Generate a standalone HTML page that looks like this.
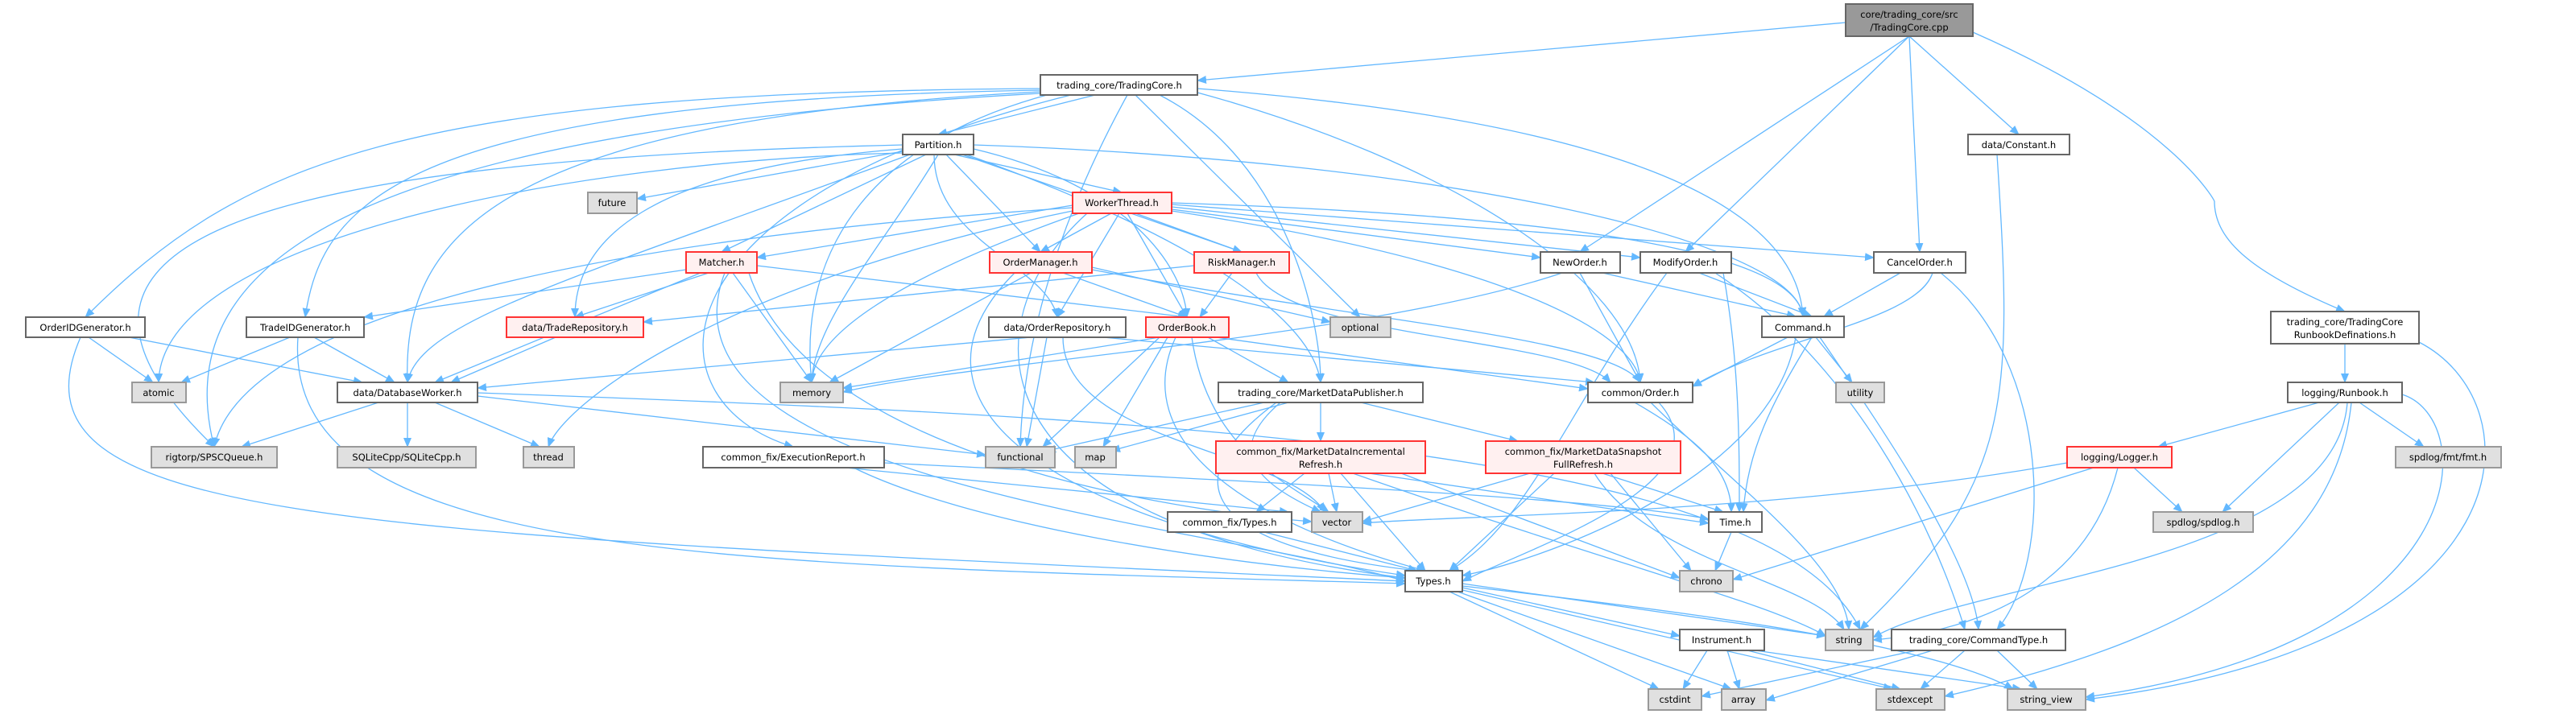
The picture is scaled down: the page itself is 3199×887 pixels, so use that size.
<!DOCTYPE html>
<html><head><meta charset="utf-8"><style>
html,body{margin:0;padding:0;background:#fff;}
svg{display:block;}
.e{fill:none;stroke:#63b8ff;stroke-width:1.3;marker-end:url(#a);}
.n rect{fill:#fff;stroke:#666;stroke-width:2;}
.r rect{fill:#fff0f0;stroke:#ff3333;stroke-width:2;}
.g rect{fill:#e0e0e0;stroke:#999;stroke-width:2;}
.c rect{fill:#999;stroke:#666;stroke-width:2;}
text{font-family:"DejaVu Sans","Liberation Sans",sans-serif;font-size:11.5px;fill:#000;text-anchor:middle;}
</style></head><body>
<svg width="3199" height="887" viewBox="0 0 3199 887" xmlns="http://www.w3.org/2000/svg">
<defs><marker id="a" markerWidth="12" markerHeight="10" refX="11" refY="5" orient="auto" markerUnits="userSpaceOnUse"><path d="M0,0L12,5L0,10z" fill="#63b8ff"/></marker></defs>
<g>
<path class="e" d="M2292,28L1487,100"/>
<path class="e" d="M2371,45L1962,313"/>
<path class="e" d="M2371,45L2093,313"/>
<path class="e" d="M2371,45L2384,313"/>
<path class="e" d="M2371,45L2507,167"/>
<path class="e" d="M2450,40C2700,150 2750,250 2750,250C2750,300 2800,340 2912,387"/>
<path class="e" d="M1360,118L1165,167"/>
<path class="e" d="M1292,110C500,115 300,200 106,394"/>
<path class="e" d="M1292,112C500,125 400,250 379,394"/>
<path class="e" d="M1292,114C600,150 500,300 506,475"/>
<path class="e" d="M1300,118C1000,200 1000,400 1008,475"/>
<path class="e" d="M1330,118C800,250 800,500 985,555"/>
<path class="e" d="M1410,118L1689,394"/>
<path class="e" d="M1440,118C1600,200 1640,400 1640,475"/>
<path class="e" d="M1487,110C2000,150 2230,250 2239,393"/>
<path class="e" d="M1487,115C1800,200 2030,350 2037,475"/>
<path class="e" d="M1292,116C500,160 200,300 266,555"/>
<path class="e" d="M1400,118C1300,300 1270,450 1267,555"/>
<path class="e" d="M1185,192L1393,239"/>
<path class="e" d="M1150,192L896,313"/>
<path class="e" d="M1175,192L1292,313"/>
<path class="e" d="M1195,192L1542,313"/>
<path class="e" d="M1209,185C1400,230 1470,330 1474,394"/>
<path class="e" d="M1160,192C1160,300 1300,330 1313,394"/>
<path class="e" d="M1121,185C800,210 714,300 714,394"/>
<path class="e" d="M1121,188L791,247"/>
<path class="e" d="M1121,190C700,200 200,300 197,475"/>
<path class="e" d="M1165,192C1100,300 1010,400 1008,475"/>
<path class="e" d="M1209,180C1800,200 2230,300 2239,393"/>
<path class="e" d="M1200,192C1500,300 1630,400 1640,475"/>
<path class="e" d="M1130,192C700,350 520,400 506,475"/>
<path class="e" d="M1121,180C300,200 0,300 266,555"/>
<path class="e" d="M1380,265L1292,313"/>
<path class="e" d="M1410,265L1542,313"/>
<path class="e" d="M1332,255L940,320"/>
<path class="e" d="M1400,265L1474,394"/>
<path class="e" d="M1390,265L1313,394"/>
<path class="e" d="M1455,260L1913,320"/>
<path class="e" d="M1455,257L2037,320"/>
<path class="e" d="M1455,254L2327,320"/>
<path class="e" d="M1455,252C2000,270 2230,320 2239,393"/>
<path class="e" d="M1340,265C1100,350 1010,420 1008,475"/>
<path class="e" d="M1332,262C900,350 700,500 681,555"/>
<path class="e" d="M1332,258C700,300 300,400 266,555"/>
<path class="e" d="M1455,262C1900,330 2030,420 2037,475"/>
<path class="e" d="M1350,265C1200,400 1200,650 1745,718"/>
<path class="e" d="M852,335L452,394"/>
<path class="e" d="M880,339L714,394"/>
<path class="e" d="M940,330L1474,394"/>
<path class="e" d="M870,339L540,475"/>
<path class="e" d="M910,339L1008,475"/>
<path class="e" d="M930,339C1000,550 1400,630 1629,648"/>
<path class="e" d="M900,339C800,600 1500,650 1745,722"/>
<path class="e" d="M1320,339L1474,394"/>
<path class="e" d="M1356,335C1700,400 2000,420 2037,475"/>
<path class="e" d="M1356,332L1652,400"/>
<path class="e" d="M1280,339L1030,475"/>
<path class="e" d="M1260,339C1100,500 1300,650 1745,715"/>
<path class="e" d="M1530,339L1490,394"/>
<path class="e" d="M1483,330L799,400"/>
<path class="e" d="M1560,339C1600,420 1950,420 2000,475"/>
<path class="e" d="M1990,339L2230,393"/>
<path class="e" d="M1962,339L2037,475"/>
<path class="e" d="M1940,339C1700,420 1200,450 1047,487"/>
<path class="e" d="M2110,339L2250,393"/>
<path class="e" d="M2070,339C1950,500 1900,650 1800,709"/>
<path class="e" d="M2130,339C2300,450 2400,650 2440,782"/>
<path class="e" d="M2140,339C2160,450 2160,550 2160,636"/>
<path class="e" d="M2360,339L2265,393"/>
<path class="e" d="M2400,339C2380,400 2200,420 2102,480"/>
<path class="e" d="M2410,339C2550,450 2550,700 2480,782"/>
<path class="e" d="M110,419L190,475"/>
<path class="e" d="M160,419L450,475"/>
<path class="e" d="M100,419C0,650 400,660 1745,722"/>
<path class="e" d="M360,419L225,475"/>
<path class="e" d="M390,419L490,475"/>
<path class="e" d="M370,419C350,700 900,700 1745,725"/>
<path class="e" d="M690,419L560,475"/>
<path class="e" d="M1280,419L593,482"/>
<path class="e" d="M1370,419L1980,475"/>
<path class="e" d="M1300,419L1275,555"/>
<path class="e" d="M1320,419C1320,550 1600,560 1645,636"/>
<path class="e" d="M1500,419L1600,475"/>
<path class="e" d="M1510,419L1972,483"/>
<path class="e" d="M1440,419L1047,482"/>
<path class="e" d="M1450,419L1370,555"/>
<path class="e" d="M1440,419L1295,555"/>
<path class="e" d="M1460,419C1400,550 1550,650 1770,709"/>
<path class="e" d="M1480,419C1500,560 1600,600 1650,636"/>
<path class="e" d="M2220,419L2102,480"/>
<path class="e" d="M2255,419L2300,475"/>
<path class="e" d="M2250,419C2200,500 2170,560 2165,636"/>
<path class="e" d="M2230,419C2200,600 1900,700 1816,715"/>
<path class="e" d="M2260,419C2350,550 2450,700 2457,782"/>
<path class="e" d="M2480,192C2500,500 2500,600 2310,782"/>
<path class="e" d="M2912,427L2912,475"/>
<path class="e" d="M3004,425C3150,500 3150,800 2590,869"/>
<path class="e" d="M470,500L300,555"/>
<path class="e" d="M506,500L506,555"/>
<path class="e" d="M540,500L670,555"/>
<path class="e" d="M593,492L1224,565"/>
<path class="e" d="M593,488C1500,520 2200,560 2310,782"/>
<path class="e" d="M1640,500L1640,548"/>
<path class="e" d="M1690,500L1885,548"/>
<path class="e" d="M1570,500L1300,560"/>
<path class="e" d="M1600,500L1380,560"/>
<path class="e" d="M1590,500C1520,560 1560,600 1640,636"/>
<path class="e" d="M1585,500C1450,600 1500,680 1760,709"/>
<path class="e" d="M2060,500C2150,600 1900,680 1816,722"/>
<path class="e" d="M2030,500C2100,540 2150,580 2150,636"/>
<path class="e" d="M2050,500C2150,600 2290,700 2296,782"/>
<path class="e" d="M1050,581L1600,636"/>
<path class="e" d="M1060,581C1200,650 1500,700 1745,718"/>
<path class="e" d="M1098,575C1600,600 2000,620 2122,645"/>
<path class="e" d="M1620,588L1560,636"/>
<path class="e" d="M1650,588L1660,636"/>
<path class="e" d="M1665,588L1770,709"/>
<path class="e" d="M1700,588L2122,650"/>
<path class="e" d="M1680,588C2000,700 2200,750 2267,790"/>
<path class="e" d="M1740,588L2086,718"/>
<path class="e" d="M1900,588L1692,648"/>
<path class="e" d="M1930,588L1800,709"/>
<path class="e" d="M1990,588L2140,636"/>
<path class="e" d="M2000,588L2100,709"/>
<path class="e" d="M1980,588C2050,700 2250,720 2290,782"/>
<path class="e" d="M1570,661L1760,709"/>
<path class="e" d="M2150,661L2130,709"/>
<path class="e" d="M1816,725L2267,790"/>
<path class="e" d="M1816,730L2086,790"/>
<path class="e" d="M1800,735L2060,856"/>
<path class="e" d="M1810,735L2150,856"/>
<path class="e" d="M1816,733L2350,856"/>
<path class="e" d="M1816,728C2100,760 2400,800 2500,856"/>
<path class="e" d="M2120,808L2090,856"/>
<path class="e" d="M2145,808L2160,856"/>
<path class="e" d="M2170,808L2360,856"/>
<path class="e" d="M2180,808L2510,856"/>
<path class="e" d="M2380,808L2113,865"/>
<path class="e" d="M2400,808L2193,870"/>
<path class="e" d="M2440,808L2385,856"/>
<path class="e" d="M2480,808L2530,856"/>
<path class="e" d="M2880,500L2680,555"/>
<path class="e" d="M2905,500L2760,636"/>
<path class="e" d="M2930,500L3010,555"/>
<path class="e" d="M2915,500C2900,700 2450,720 2326,792"/>
<path class="e" d="M2920,500C2900,700 2700,800 2415,865"/>
<path class="e" d="M2983,490C3080,520 3080,800 2590,866"/>
<path class="e" d="M2650,581L2710,636"/>
<path class="e" d="M2600,581L2152,720"/>
<path class="e" d="M2630,581C2600,700 2500,780 2326,795"/>
<path class="e" d="M2567,575C2200,640 1800,640 1692,650"/>
</g>
<g class="c"><rect x="2292" y="5" width="158" height="40"/><text x="2371" y="22">core/trading_core/src</text><text x="2371" y="38">/TradingCore.cpp</text></g>
<g class="n"><rect x="1292" y="93" width="195" height="25"/><text x="1390" y="110">trading_core/TradingCore.h</text></g>
<g class="n"><rect x="1121" y="167" width="88" height="25"/><text x="1165" y="184">Partition.h</text></g>
<g class="n"><rect x="2444" y="167" width="126" height="25"/><text x="2507" y="184">data/Constant.h</text></g>
<g class="g"><rect x="730" y="239" width="61" height="26"/><text x="760" y="256">future</text></g>
<g class="r"><rect x="1332" y="239" width="123" height="26"/><text x="1393" y="256">WorkerThread.h</text></g>
<g class="r"><rect x="852" y="313" width="88" height="26"/><text x="896" y="330">Matcher.h</text></g>
<g class="r"><rect x="1229" y="313" width="127" height="26"/><text x="1292" y="330">OrderManager.h</text></g>
<g class="r"><rect x="1483" y="313" width="118" height="26"/><text x="1542" y="330">RiskManager.h</text></g>
<g class="n"><rect x="1913" y="313" width="99" height="26"/><text x="1962" y="330">NewOrder.h</text></g>
<g class="n"><rect x="2037" y="313" width="113" height="26"/><text x="2093" y="330">ModifyOrder.h</text></g>
<g class="n"><rect x="2327" y="313" width="114" height="26"/><text x="2384" y="330">CancelOrder.h</text></g>
<g class="n"><rect x="32" y="394" width="148" height="25"/><text x="106" y="411">OrderIDGenerator.h</text></g>
<g class="n"><rect x="306" y="394" width="146" height="25"/><text x="379" y="411">TradeIDGenerator.h</text></g>
<g class="r"><rect x="629" y="394" width="170" height="25"/><text x="714" y="411">data/TradeRepository.h</text></g>
<g class="n"><rect x="1228" y="394" width="170" height="25"/><text x="1313" y="411">data/OrderRepository.h</text></g>
<g class="r"><rect x="1423" y="394" width="103" height="25"/><text x="1474" y="411">OrderBook.h</text></g>
<g class="g"><rect x="1652" y="394" width="75" height="25"/><text x="1689" y="411">optional</text></g>
<g class="n"><rect x="2188" y="393" width="102" height="26"/><text x="2239" y="411">Command.h</text></g>
<g class="n"><rect x="2820" y="387" width="184" height="40"/><text x="2912" y="404">trading_core/TradingCore</text><text x="2912" y="420">RunbookDefinations.h</text></g>
<g class="g"><rect x="164" y="475" width="67" height="25"/><text x="197" y="492">atomic</text></g>
<g class="n"><rect x="419" y="475" width="174" height="25"/><text x="506" y="492">data/DatabaseWorker.h</text></g>
<g class="g"><rect x="969" y="475" width="78" height="25"/><text x="1008" y="492">memory</text></g>
<g class="n"><rect x="1513" y="475" width="254" height="25"/><text x="1640" y="492">trading_core/MarketDataPublisher.h</text></g>
<g class="n"><rect x="1972" y="475" width="130" height="25"/><text x="2037" y="492">common/Order.h</text></g>
<g class="g"><rect x="2280" y="475" width="60" height="25"/><text x="2310" y="492">utility</text></g>
<g class="n"><rect x="2841" y="475" width="142" height="25"/><text x="2912" y="492">logging/Runbook.h</text></g>
<g class="g"><rect x="188" y="555" width="156" height="26"/><text x="266" y="572">rigtorp/SPSCQueue.h</text></g>
<g class="g"><rect x="419" y="555" width="172" height="26"/><text x="505" y="572">SQLiteCpp/SQLiteCpp.h</text></g>
<g class="g"><rect x="650" y="555" width="63" height="26"/><text x="681" y="572">thread</text></g>
<g class="n"><rect x="873" y="555" width="225" height="26"/><text x="985" y="572">common_fix/ExecutionReport.h</text></g>
<g class="g"><rect x="1224" y="555" width="86" height="26"/><text x="1267" y="572">functional</text></g>
<g class="g"><rect x="1335" y="555" width="51" height="26"/><text x="1360" y="572">map</text></g>
<g class="r"><rect x="1510" y="548" width="260" height="40"/><text x="1640" y="565">common_fix/MarketDataIncremental</text><text x="1640" y="581">Refresh.h</text></g>
<g class="r"><rect x="1845" y="548" width="242" height="40"/><text x="1966" y="565">common_fix/MarketDataSnapshot</text><text x="1966" y="581">FullRefresh.h</text></g>
<g class="r"><rect x="2567" y="555" width="130" height="26"/><text x="2632" y="572">logging/Logger.h</text></g>
<g class="g"><rect x="2975" y="555" width="131" height="26"/><text x="3040" y="572">spdlog/fmt/fmt.h</text></g>
<g class="n"><rect x="1450" y="636" width="154" height="25"/><text x="1527" y="653">common_fix/Types.h</text></g>
<g class="g"><rect x="1629" y="636" width="63" height="25"/><text x="1660" y="653">vector</text></g>
<g class="n"><rect x="2122" y="636" width="66" height="25"/><text x="2155" y="653">Time.h</text></g>
<g class="g"><rect x="2674" y="636" width="124" height="25"/><text x="2736" y="653">spdlog/spdlog.h</text></g>
<g class="n"><rect x="1745" y="709" width="71" height="26"/><text x="1780" y="726">Types.h</text></g>
<g class="g"><rect x="2086" y="709" width="66" height="26"/><text x="2119" y="726">chrono</text></g>
<g class="n"><rect x="2086" y="782" width="105" height="26"/><text x="2138" y="799">Instrument.h</text></g>
<g class="g"><rect x="2267" y="782" width="59" height="26"/><text x="2296" y="799">string</text></g>
<g class="n"><rect x="2349" y="782" width="216" height="26"/><text x="2457" y="799">trading_core/CommandType.h</text></g>
<g class="g"><rect x="2047" y="856" width="66" height="26"/><text x="2080" y="873">cstdint</text></g>
<g class="g"><rect x="2138" y="856" width="55" height="26"/><text x="2165" y="873">array</text></g>
<g class="g"><rect x="2330" y="856" width="85" height="26"/><text x="2372" y="873">stdexcept</text></g>
<g class="g"><rect x="2493" y="856" width="97" height="26"/><text x="2541" y="873">string_view</text></g>
</svg>
</body></html>
